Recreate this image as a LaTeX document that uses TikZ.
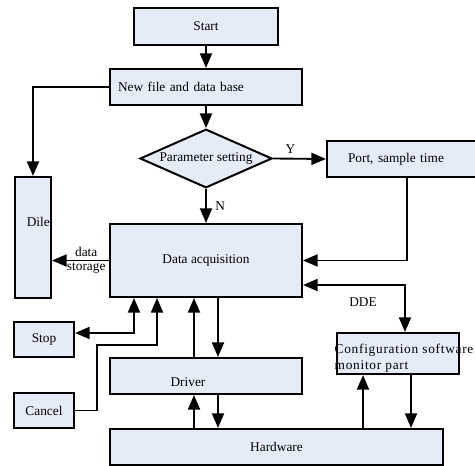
\documentclass[tikz,border=0pt]{standalone}
\usepackage{fontspec}
\setmainfont{Liberation Serif}
\newfontfamily\spacedfont[LetterSpace=5.5]{Liberation Serif}
\usetikzlibrary{arrows.meta,shapes.geometric}
\definecolor{boxfill}{RGB}{229,235,247}
\begin{document}
\begin{tikzpicture}[x=0.75pt,y=-0.75pt,
    font=\fontsize{10}{12}\selectfont,
    block/.style={draw, line width=1.5pt, fill=boxfill, inner sep=2pt},
    decide/.style={draw, diamond, line width=1.5pt, fill=boxfill, inner sep=0pt,
      aspect=2.24, minimum width=99pt, minimum height=44pt},
    link/.style={line width=1.4pt},
    arr/.style={line width=1.4pt, -{Triangle[length=11pt,width=9pt]}},
    biarr/.style={line width=1.4pt, {Triangle[length=11pt,width=9pt]}-{Triangle[length=11pt,width=9pt]}}]
  \useasboundingbox (0,0) rectangle (475,466);

  % Blocks
  \node[block, minimum width=108pt, minimum height=27.75pt] (start) at (206,26.5) {Start};
  \node[block, minimum height=27pt, text width=132pt, inner xsep=6pt, align=left] (newf) at (206,87) {New file and data base};
  \node[decide] (param) at (206,158.5) {\raisebox{1pt}{Parameter setting}};
  \node[block, anchor=west, minimum height=27pt, text width=88.5pt, inner xsep=15.75pt, align=left] (port) at (326,159) {Port, sample time};
  \node[block, minimum width=27pt, minimum height=90.75pt,
    label={[xshift=4pt,yshift=11.6pt]center:Dile}] (dile) at (33,237.5) {};
  \node[block, minimum width=144pt, minimum height=54.75pt] (dacq) at (206,260.5) {Data acquisition};
  \node[block, minimum width=45pt, minimum height=26.25pt] (stop) at (44,339.5) {Stop};
  \node[block, minimum width=45pt, minimum height=26.25pt] (cancel) at (44,410.5) {Cancel};
  \node[block, minimum width=144pt, minimum height=27pt,
    label={[xshift=-13.5pt,yshift=-4.5pt]center:Driver}] (driver) at (206,376) {};
  \node[block, minimum width=249.75pt, minimum height=27pt] (hw) at (276.5,447) {Hardware};
  \node[block, minimum width=91.5pt, minimum height=30.75pt,
    label={[anchor=west, xshift=-4.5pt, yshift=-3.4pt, align=left,
      font=\spacedfont\fontsize{10}{12}\selectfont]west:Configuration software\\monitor part}] (config) at (398,353.5) {};

  % Column positions of the connectors
  \coordinate (dde) at (405,285);
  \coordinate (c1) at (134,333);
  \coordinate (c2) at (97,345);
  \coordinate (c3) at (157,345);
  \coordinate (c4) at (194,0);
  \coordinate (c5) at (218,0);
  \coordinate (c6) at (363,0);
  \coordinate (c7) at (411,0);

  % Main flow
  \draw[arr] (start) -- (newf);
  \draw[arr] (newf) -- (param);
  \draw[arr] (newf.west) -| (dile.north);
  \draw[arr] (param.east) -- node[pos=0.33, above] {Y} (port.west);
  \draw[arr] (param.south) -- node[right, xshift=3pt] {N} (dacq.north);
  \draw[arr] (port.south) |- (dacq.east);
  \draw[arr] (dacq.west) -- node[pos=0.4, align=center, font=\fontsize{10}{10.5}\selectfont] {data\\storage} (dile.east |- dacq.west);

  % DDE link
  \draw[biarr] (dacq.east |- dde) -| (config.north -| dde);
  \node (ddelbl) at (363,302) {DDE};

  % Stop and Cancel
  \draw[biarr] (stop.east |- c1) -| (c1 |- dacq.south);
  \draw[arr] (cancel.east) -| (c2) -| (c3 |- dacq.south);

  % Driver and hardware
  \draw[arr] (driver.north -| c4) -- (dacq.south -| c4);
  \draw[arr] (dacq.south -| c5) -- (driver.north -| c5);
  \draw[arr] (hw.north -| c4) -- (driver.south -| c4);
  \draw[arr] (driver.south -| c5) -- (hw.north -| c5);
  \draw[arr] (hw.north -| c6) -- (config.south -| c6);
  \draw[arr] (config.south -| c7) -- (hw.north -| c7);
\end{tikzpicture}
\end{document}
